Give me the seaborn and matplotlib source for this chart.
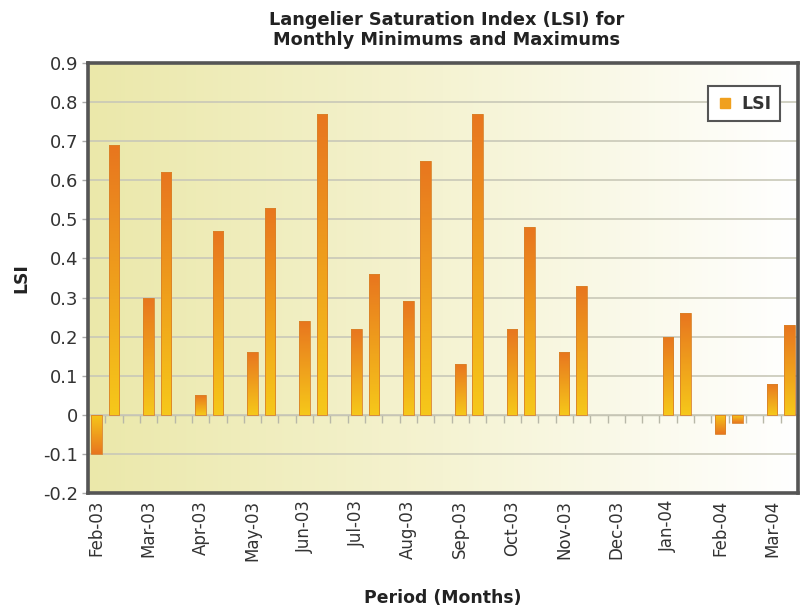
import numpy as np
import pandas as pd
import matplotlib
matplotlib.use("Agg")
import matplotlib.pyplot as plt
from matplotlib.colors import LinearSegmentedColormap
from matplotlib.lines import Line2D
import seaborn as sns

# Monthly minimum / maximum LSI readings (NaN = no reading that month)
months = ["Feb-03", "Mar-03", "Apr-03", "May-03", "Jun-03", "Jul-03", "Aug-03",
          "Sep-03", "Oct-03", "Nov-03", "Dec-03", "Jan-04", "Feb-04", "Mar-04"]
lsi_min = [-0.10, 0.30, 0.05, 0.16, 0.24, 0.22, 0.29,
           0.13, 0.22, 0.16, np.nan, 0.20, -0.05, 0.08]
lsi_max = [0.69, 0.62, 0.47, 0.53, 0.77, 0.36, 0.65,
           0.77, 0.48, 0.33, np.nan, 0.26, -0.02, 0.23]
y_ticks = [-0.2, -0.1, 0, 0.1, 0.2, 0.3, 0.4, 0.5, 0.6, 0.7, 0.8, 0.9]
y_tick_labels = ["-0.2", "-0.1", "0", "0.1", "0.2", "0.3", "0.4", "0.5",
                 "0.6", "0.7", "0.8", "0.9"]

# Each month occupies three category slots: min, max, spacer
slots, values = [], []
for i in range(len(months)):
    slots += [3 * i, 3 * i + 1]
    values += [lsi_min[i], lsi_max[i]]
    if i < len(months) - 1:
        slots.append(3 * i + 2)
        values.append(np.nan)
df = pd.DataFrame({"slot": slots, "lsi": values})
n_slots = len(df)

sns.set_theme(style="white")
plt.rcParams["font.family"] = ["DejaVu Sans"]

fig = plt.figure(figsize=(8.01, 6.11), dpi=100)
ax = fig.add_axes([88 / 801, 1 - 493 / 611, 710 / 801, 430 / 611])

sns.barplot(data=df, x="slot", y="lsi", order=list(range(n_slots)),
            color="#ee9a22", width=0.6, errorbar=None, ax=ax, zorder=3)

ax.set_xlim(-0.5, n_slots - 0.5)
ax.set_ylim(-0.2, 0.9)

# Horizontal background wash: pale olive on the left fading to white
bg_cmap = LinearSegmentedColormap.from_list("bg", ["#ebe8aa", "#f5f3d2", "#ffffff"])
ax.set_facecolor("none")
ax.imshow(np.linspace(0, 1, 256)[None, :], cmap=bg_cmap, aspect="auto",
          extent=[0, 1, 0, 1], transform=ax.transAxes, zorder=0)

# Vertical orange-to-yellow gradient inside each bar
bar_cmap = LinearSegmentedColormap.from_list("bar", ["#f6c81a", "#e8761f"])
for patch in list(ax.patches):
    x0, y0 = patch.get_x(), patch.get_y()
    w, h = patch.get_width(), patch.get_height()
    if not np.isfinite(h) or h == 0:
        continue
    lo, hi = min(y0, y0 + h), max(y0, y0 + h)
    grad = np.linspace(0, 1, 128)[:, None]
    if h < 0:
        grad = grad[::-1]
    im = ax.imshow(grad, cmap=bar_cmap, aspect="auto", origin="lower",
                   extent=[x0, x0 + w, lo, hi], zorder=3.5)
    im.set_clip_path(patch)
    patch.set_facecolor("none")
    patch.set_edgecolor("#d9822a")
    patch.set_linewidth(0.6)
    patch.set_zorder(4)

# Gridlines
for yv in y_ticks:
    ax.axhline(yv, color="#c9c8b8", lw=1.2, zorder=1)

# Category axis drawn along y = 0 with ticks between slots
zero_frac = (0 - (-0.2)) / 1.1
sec = ax.secondary_xaxis(zero_frac)
sec.set_xticks(np.arange(0.5, n_slots - 1, 1.0))
sec.set_xticklabels([])
sec.tick_params(axis="x", direction="out", length=6, width=1, color="#b8b8a8")
sec.spines["bottom"].set_color("#b8b8a8")
sec.spines["bottom"].set_linewidth(1.0)
for s in ["top", "left", "right"]:
    sec.spines[s].set_visible(False)

# Month labels
ax.set_xticks(range(0, n_slots, 3))
ax.set_xticklabels(months, rotation=90, fontsize=12, color="#333333")
ax.tick_params(axis="x", length=0, pad=5)

ax.set_yticks(y_ticks)
ax.set_yticklabels(y_tick_labels, fontsize=13, color="#333333")
ax.tick_params(axis="y", direction="out", length=4, width=1, color="#aaaaaa",
               left=True, pad=3)

for s in ax.spines.values():
    s.set_visible(True)
    s.set_color("#555555")
    s.set_linewidth(2.6)
    s.set_zorder(6)

ax.set_xlabel("Period (Months)", fontsize=12.4, fontweight="bold", color="#222222",
              labelpad=20)
ax.set_ylabel("LSI", fontsize=12.4, fontweight="bold", color="#222222", labelpad=9)

fig.text(447 / 801, 1 - 30 / 611,
         "Langelier Saturation Index (LSI) for\nMonthly Minimums and Maximums",
         ha="center", va="center", fontsize=12.8, fontweight="bold",
         color="#222222", linespacing=1.1)

handle = Line2D([], [], marker="s", linestyle="none", markersize=7,
                markerfacecolor="#f0a01e", markeredgecolor="#f0a01e")
leg = ax.legend([handle], ["LSI"], loc="upper right",
                bbox_to_anchor=((780 - 88) / 710, (493 - 86) / 430),
                borderaxespad=0, frameon=True, fancybox=False, fontsize=12.5,
                handletextpad=0.5, borderpad=0.5, handlelength=0.9)
leg.get_frame().set_edgecolor("#555555")
leg.get_frame().set_linewidth(1.5)
leg.get_frame().set_facecolor("white")
leg.get_frame().set_alpha(1)
for t in leg.get_texts():
    t.set_fontweight("bold")
    t.set_color("#333333")
leg.set_zorder(10)

fig.savefig("out.png", dpi=100)
